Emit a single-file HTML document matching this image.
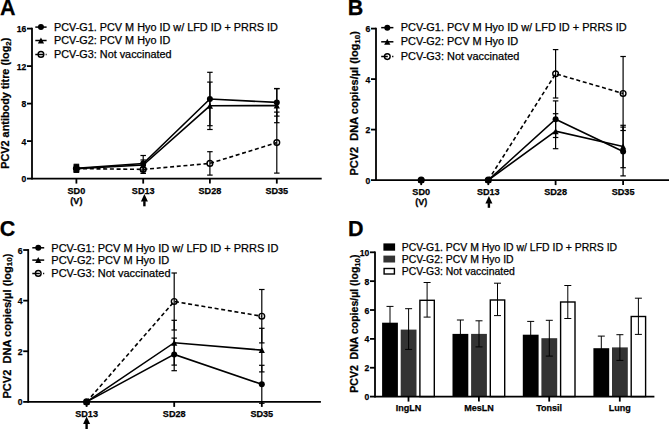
<!DOCTYPE html>
<html><head><meta charset="utf-8"><style>
html,body{margin:0;padding:0;background:#fff;}
svg{display:block;font-family:"Liberation Sans", sans-serif;}
text{stroke:#000;stroke-width:0.25px;paint-order:stroke;}
</style></head><body>
<svg width="669" height="429" viewBox="0 0 669 429">
<rect width="669" height="429" fill="#fff"/>
<text x="-0.10" y="14.90" font-size="21.5" font-weight="bold" text-anchor="start" >A</text>
<line x1="32.00" y1="27.70" x2="32.00" y2="179.50" stroke="#000" stroke-width="1.8" />
<line x1="27.00" y1="28.60" x2="32.00" y2="28.60" stroke="#000" stroke-width="1.8" />
<text x="26.40" y="32.10" font-size="8.6" font-weight="bold" text-anchor="end" >16</text>
<line x1="27.00" y1="66.10" x2="32.00" y2="66.10" stroke="#000" stroke-width="1.8" />
<text x="26.40" y="69.60" font-size="8.6" font-weight="bold" text-anchor="end" >12</text>
<line x1="27.00" y1="103.60" x2="32.00" y2="103.60" stroke="#000" stroke-width="1.8" />
<text x="26.40" y="107.10" font-size="8.6" font-weight="bold" text-anchor="end" >8</text>
<line x1="27.00" y1="141.10" x2="32.00" y2="141.10" stroke="#000" stroke-width="1.8" />
<text x="26.40" y="144.60" font-size="8.6" font-weight="bold" text-anchor="end" >4</text>
<line x1="27.00" y1="178.60" x2="32.00" y2="178.60" stroke="#000" stroke-width="1.8" />
<text x="26.40" y="182.10" font-size="8.6" font-weight="bold" text-anchor="end" >0</text>
<line x1="32.00" y1="178.60" x2="321.70" y2="178.60" stroke="#000" stroke-width="1.8" />
<line x1="76.40" y1="178.60" x2="76.40" y2="183.60" stroke="#000" stroke-width="1.8" />
<line x1="143.20" y1="178.60" x2="143.20" y2="183.60" stroke="#000" stroke-width="1.8" />
<line x1="209.90" y1="178.60" x2="209.90" y2="183.60" stroke="#000" stroke-width="1.8" />
<line x1="276.80" y1="178.60" x2="276.80" y2="183.60" stroke="#000" stroke-width="1.8" />
<text x="76.40" y="193.80" font-size="9.1" font-weight="bold" text-anchor="middle" >SD0</text>
<text x="143.20" y="193.80" font-size="9.1" font-weight="bold" text-anchor="middle" >SD13</text>
<text x="209.90" y="193.80" font-size="9.1" font-weight="bold" text-anchor="middle" >SD28</text>
<text x="276.80" y="193.80" font-size="9.1" font-weight="bold" text-anchor="middle" >SD35</text>
<text x="76.40" y="204.00" font-size="9.1" font-weight="bold" text-anchor="middle" >(V)</text>
<path d="M144.40,194.00 L147.90,201.60 L140.90,201.60 Z" fill="#000"/>
<line x1="144.40" y1="201.10" x2="144.40" y2="206.30" stroke="#000" stroke-width="2.4" />
<text transform="translate(9.30,103.20) rotate(-90)" x="0" y="0" font-size="10.86" font-weight="bold" text-anchor="middle" xml:space="preserve">PCV2 antibody titre (log<tspan font-size="7.93" dy="1.63">2</tspan><tspan dy="-1.63">)</tspan></text>
<line x1="76.40" y1="164.30" x2="76.40" y2="172.30" stroke="#000" stroke-width="1.2" />
<line x1="73.65" y1="164.30" x2="79.15" y2="164.30" stroke="#000" stroke-width="1.2" />
<line x1="73.65" y1="172.30" x2="79.15" y2="172.30" stroke="#000" stroke-width="1.2" />
<line x1="143.20" y1="155.50" x2="143.20" y2="171.50" stroke="#000" stroke-width="1.2" />
<line x1="140.45" y1="155.50" x2="145.95" y2="155.50" stroke="#000" stroke-width="1.2" />
<line x1="140.45" y1="171.50" x2="145.95" y2="171.50" stroke="#000" stroke-width="1.2" />
<line x1="209.90" y1="72.30" x2="209.90" y2="125.70" stroke="#000" stroke-width="1.2" />
<line x1="207.15" y1="72.30" x2="212.65" y2="72.30" stroke="#000" stroke-width="1.2" />
<line x1="207.15" y1="125.70" x2="212.65" y2="125.70" stroke="#000" stroke-width="1.2" />
<line x1="276.80" y1="88.70" x2="276.80" y2="116.10" stroke="#000" stroke-width="1.2" />
<line x1="274.05" y1="88.70" x2="279.55" y2="88.70" stroke="#000" stroke-width="1.2" />
<line x1="274.05" y1="116.10" x2="279.55" y2="116.10" stroke="#000" stroke-width="1.2" />
<line x1="76.40" y1="165.10" x2="76.40" y2="172.10" stroke="#000" stroke-width="1.2" />
<line x1="73.65" y1="165.10" x2="79.15" y2="165.10" stroke="#000" stroke-width="1.2" />
<line x1="73.65" y1="172.10" x2="79.15" y2="172.10" stroke="#000" stroke-width="1.2" />
<line x1="143.20" y1="160.00" x2="143.20" y2="170.00" stroke="#000" stroke-width="1.2" />
<line x1="140.45" y1="160.00" x2="145.95" y2="160.00" stroke="#000" stroke-width="1.2" />
<line x1="140.45" y1="170.00" x2="145.95" y2="170.00" stroke="#000" stroke-width="1.2" />
<line x1="209.90" y1="82.10" x2="209.90" y2="129.50" stroke="#000" stroke-width="1.2" />
<line x1="207.15" y1="82.10" x2="212.65" y2="82.10" stroke="#000" stroke-width="1.2" />
<line x1="207.15" y1="129.50" x2="212.65" y2="129.50" stroke="#000" stroke-width="1.2" />
<line x1="276.80" y1="88.50" x2="276.80" y2="122.70" stroke="#000" stroke-width="1.2" />
<line x1="274.05" y1="88.50" x2="279.55" y2="88.50" stroke="#000" stroke-width="1.2" />
<line x1="274.05" y1="122.70" x2="279.55" y2="122.70" stroke="#000" stroke-width="1.2" />
<line x1="76.40" y1="165.60" x2="76.40" y2="171.60" stroke="#000" stroke-width="1.2" />
<line x1="73.65" y1="165.60" x2="79.15" y2="165.60" stroke="#000" stroke-width="1.2" />
<line x1="73.65" y1="171.60" x2="79.15" y2="171.60" stroke="#000" stroke-width="1.2" />
<line x1="143.20" y1="165.40" x2="143.20" y2="173.40" stroke="#000" stroke-width="1.2" />
<line x1="140.45" y1="165.40" x2="145.95" y2="165.40" stroke="#000" stroke-width="1.2" />
<line x1="140.45" y1="173.40" x2="145.95" y2="173.40" stroke="#000" stroke-width="1.2" />
<line x1="209.90" y1="151.70" x2="209.90" y2="175.10" stroke="#000" stroke-width="1.2" />
<line x1="207.15" y1="151.70" x2="212.65" y2="151.70" stroke="#000" stroke-width="1.2" />
<line x1="207.15" y1="175.10" x2="212.65" y2="175.10" stroke="#000" stroke-width="1.2" />
<line x1="276.80" y1="112.10" x2="276.80" y2="173.10" stroke="#000" stroke-width="1.2" />
<line x1="274.05" y1="112.10" x2="279.55" y2="112.10" stroke="#000" stroke-width="1.2" />
<line x1="274.05" y1="173.10" x2="279.55" y2="173.10" stroke="#000" stroke-width="1.2" />
<polyline points="76.40,168.60 143.20,169.40 209.90,163.40 276.80,142.60" fill="none" stroke="#000" stroke-width="1.6" stroke-dasharray="4,2.7"/>
<polyline points="76.40,168.30 143.20,163.50 209.90,99.00 276.80,102.40" fill="none" stroke="#000" stroke-width="1.6" />
<polyline points="76.40,168.60 143.20,165.00 209.90,105.80 276.80,105.60" fill="none" stroke="#000" stroke-width="1.6" />
<circle cx="76.40" cy="168.60" r="2.85" fill="none" stroke="#000" stroke-width="1.4"/>
<circle cx="143.20" cy="169.40" r="2.85" fill="none" stroke="#000" stroke-width="1.4"/>
<circle cx="209.90" cy="163.40" r="2.85" fill="none" stroke="#000" stroke-width="1.4"/>
<circle cx="276.80" cy="142.60" r="2.85" fill="none" stroke="#000" stroke-width="1.4"/>
<path d="M73.30,171.60 L79.50,171.60 L76.40,165.60 Z" fill="#000"/>
<path d="M140.10,168.00 L146.30,168.00 L143.20,162.00 Z" fill="#000"/>
<path d="M206.80,108.80 L213.00,108.80 L209.90,102.80 Z" fill="#000"/>
<path d="M273.70,108.60 L279.90,108.60 L276.80,102.60 Z" fill="#000"/>
<circle cx="76.40" cy="168.30" r="3.0" fill="#000"/>
<circle cx="143.20" cy="163.50" r="3.0" fill="#000"/>
<circle cx="209.90" cy="99.00" r="3.0" fill="#000"/>
<circle cx="276.80" cy="102.40" r="3.0" fill="#000"/>
<line x1="35.30" y1="27.10" x2="46.60" y2="27.10" stroke="#000" stroke-width="1.5" />
<circle cx="40.95" cy="27.10" r="3.0" fill="#000"/>
<text x="54.00" y="30.70" font-size="10.85" font-weight="normal" text-anchor="start" >PCV-G1. PCV M Hyo ID w/ LFD ID + PRRS ID</text>
<line x1="35.30" y1="40.50" x2="46.60" y2="40.50" stroke="#000" stroke-width="1.5" />
<path d="M37.85,43.50 L44.05,43.50 L40.95,37.50 Z" fill="#000"/>
<text x="54.00" y="43.90" font-size="10.85" font-weight="normal" text-anchor="start" >PCV-G2: PCV M Hyo ID</text>
<line x1="35.30" y1="54.40" x2="46.60" y2="54.40" stroke="#000" stroke-width="1.5" stroke-dasharray="8,2.4,1.2,9"/>
<circle cx="40.95" cy="54.40" r="2.85" fill="none" stroke="#000" stroke-width="1.4"/>
<text x="54.00" y="57.60" font-size="10.85" font-weight="normal" text-anchor="start" >PCV-G3: Not vaccinated</text>
<text x="347.80" y="15.00" font-size="21.5" font-weight="bold" text-anchor="start" >B</text>
<line x1="376.00" y1="27.70" x2="376.00" y2="181.00" stroke="#000" stroke-width="1.8" />
<line x1="371.00" y1="28.60" x2="376.00" y2="28.60" stroke="#000" stroke-width="1.8" />
<text x="370.40" y="32.10" font-size="8.6" font-weight="bold" text-anchor="end" >6</text>
<line x1="371.00" y1="79.10" x2="376.00" y2="79.10" stroke="#000" stroke-width="1.8" />
<text x="370.40" y="82.60" font-size="8.6" font-weight="bold" text-anchor="end" >4</text>
<line x1="371.00" y1="129.60" x2="376.00" y2="129.60" stroke="#000" stroke-width="1.8" />
<text x="370.40" y="133.10" font-size="8.6" font-weight="bold" text-anchor="end" >2</text>
<line x1="371.00" y1="180.10" x2="376.00" y2="180.10" stroke="#000" stroke-width="1.8" />
<text x="370.40" y="183.60" font-size="8.6" font-weight="bold" text-anchor="end" >0</text>
<line x1="376.00" y1="180.10" x2="669.00" y2="180.10" stroke="#000" stroke-width="1.8" />
<line x1="421.20" y1="180.10" x2="421.20" y2="185.10" stroke="#000" stroke-width="1.8" />
<line x1="488.30" y1="180.10" x2="488.30" y2="185.10" stroke="#000" stroke-width="1.8" />
<line x1="555.60" y1="180.10" x2="555.60" y2="185.10" stroke="#000" stroke-width="1.8" />
<line x1="623.10" y1="180.10" x2="623.10" y2="185.10" stroke="#000" stroke-width="1.8" />
<text x="421.20" y="194.60" font-size="9.1" font-weight="bold" text-anchor="middle" >SD0</text>
<text x="488.30" y="194.60" font-size="9.1" font-weight="bold" text-anchor="middle" >SD13</text>
<text x="555.60" y="194.60" font-size="9.1" font-weight="bold" text-anchor="middle" >SD28</text>
<text x="623.10" y="194.60" font-size="9.1" font-weight="bold" text-anchor="middle" >SD35</text>
<text x="421.20" y="205.20" font-size="9.1" font-weight="bold" text-anchor="middle" >(V)</text>
<path d="M488.90,196.00 L492.40,203.60 L485.40,203.60 Z" fill="#000"/>
<line x1="488.90" y1="203.10" x2="488.90" y2="207.80" stroke="#000" stroke-width="2.4" />
<text transform="translate(358.00,103.30) rotate(-90)" x="0" y="0" font-size="11.0" font-weight="bold" text-anchor="middle" xml:space="preserve">PCV2  DNA copies/µl (log<tspan font-size="8.03" dy="1.65">10</tspan><tspan dy="-1.65">)</tspan></text>
<line x1="555.60" y1="100.90" x2="555.60" y2="137.50" stroke="#000" stroke-width="1.2" />
<line x1="552.85" y1="100.90" x2="558.35" y2="100.90" stroke="#000" stroke-width="1.2" />
<line x1="552.85" y1="137.50" x2="558.35" y2="137.50" stroke="#000" stroke-width="1.2" />
<line x1="623.10" y1="127.10" x2="623.10" y2="175.90" stroke="#000" stroke-width="1.2" />
<line x1="620.35" y1="127.10" x2="625.85" y2="127.10" stroke="#000" stroke-width="1.2" />
<line x1="620.35" y1="175.90" x2="625.85" y2="175.90" stroke="#000" stroke-width="1.2" />
<line x1="555.60" y1="113.70" x2="555.60" y2="148.70" stroke="#000" stroke-width="1.2" />
<line x1="552.85" y1="113.70" x2="558.35" y2="113.70" stroke="#000" stroke-width="1.2" />
<line x1="552.85" y1="148.70" x2="558.35" y2="148.70" stroke="#000" stroke-width="1.2" />
<line x1="623.10" y1="125.30" x2="623.10" y2="167.70" stroke="#000" stroke-width="1.2" />
<line x1="620.35" y1="125.30" x2="625.85" y2="125.30" stroke="#000" stroke-width="1.2" />
<line x1="620.35" y1="167.70" x2="625.85" y2="167.70" stroke="#000" stroke-width="1.2" />
<line x1="555.60" y1="49.60" x2="555.60" y2="98.00" stroke="#000" stroke-width="1.2" />
<line x1="552.85" y1="49.60" x2="558.35" y2="49.60" stroke="#000" stroke-width="1.2" />
<line x1="552.85" y1="98.00" x2="558.35" y2="98.00" stroke="#000" stroke-width="1.2" />
<line x1="623.10" y1="56.50" x2="623.10" y2="130.50" stroke="#000" stroke-width="1.2" />
<line x1="620.35" y1="56.50" x2="625.85" y2="56.50" stroke="#000" stroke-width="1.2" />
<line x1="620.35" y1="130.50" x2="625.85" y2="130.50" stroke="#000" stroke-width="1.2" />
<polyline points="488.30,180.10 555.60,73.80 623.10,93.50" fill="none" stroke="#000" stroke-width="1.6" stroke-dasharray="4,2.7"/>
<polyline points="488.30,180.10 555.60,119.20 623.10,151.50" fill="none" stroke="#000" stroke-width="1.6" />
<polyline points="488.30,180.10 555.60,131.20 623.10,146.50" fill="none" stroke="#000" stroke-width="1.6" />
<circle cx="421.20" cy="180.10" r="2.85" fill="none" stroke="#000" stroke-width="1.4"/>
<circle cx="488.30" cy="180.10" r="2.85" fill="none" stroke="#000" stroke-width="1.4"/>
<circle cx="555.60" cy="73.80" r="2.85" fill="none" stroke="#000" stroke-width="1.4"/>
<circle cx="623.10" cy="93.50" r="2.85" fill="none" stroke="#000" stroke-width="1.4"/>
<path d="M418.10,183.10 L424.30,183.10 L421.20,177.10 Z" fill="#000"/>
<path d="M485.20,183.10 L491.40,183.10 L488.30,177.10 Z" fill="#000"/>
<path d="M552.50,134.20 L558.70,134.20 L555.60,128.20 Z" fill="#000"/>
<path d="M620.00,149.50 L626.20,149.50 L623.10,143.50 Z" fill="#000"/>
<circle cx="421.20" cy="180.10" r="3.0" fill="#000"/>
<circle cx="488.30" cy="180.10" r="3.0" fill="#000"/>
<circle cx="555.60" cy="119.20" r="3.0" fill="#000"/>
<circle cx="623.10" cy="151.50" r="3.0" fill="#000"/>
<line x1="381.20" y1="27.65" x2="393.40" y2="27.65" stroke="#000" stroke-width="1.5" />
<circle cx="387.30" cy="27.65" r="3.0" fill="#000"/>
<text x="400.80" y="31.40" font-size="10.95" font-weight="normal" text-anchor="start" >PCV-G1. PCV M Hyo ID w/ LFD ID + PRRS ID</text>
<line x1="381.20" y1="41.80" x2="393.40" y2="41.80" stroke="#000" stroke-width="1.5" />
<path d="M384.20,44.80 L390.40,44.80 L387.30,38.80 Z" fill="#000"/>
<text x="400.80" y="45.40" font-size="10.95" font-weight="normal" text-anchor="start" >PCV-G2: PCV M Hyo ID</text>
<line x1="381.20" y1="56.60" x2="393.40" y2="56.60" stroke="#000" stroke-width="1.5" stroke-dasharray="6.6,4.3,1.5,9"/>
<circle cx="387.30" cy="56.60" r="2.85" fill="none" stroke="#000" stroke-width="1.4"/>
<text x="400.80" y="60.00" font-size="10.95" font-weight="normal" text-anchor="start" >PCV-G3: Not vaccinated</text>
<text x="-0.30" y="235.60" font-size="21.5" font-weight="bold" text-anchor="start" >C</text>
<line x1="28.20" y1="249.10" x2="28.20" y2="402.80" stroke="#000" stroke-width="1.8" />
<line x1="23.20" y1="250.00" x2="28.20" y2="250.00" stroke="#000" stroke-width="1.8" />
<text x="22.60" y="253.50" font-size="8.6" font-weight="bold" text-anchor="end" >6</text>
<line x1="23.20" y1="300.63" x2="28.20" y2="300.63" stroke="#000" stroke-width="1.8" />
<text x="22.60" y="304.13" font-size="8.6" font-weight="bold" text-anchor="end" >4</text>
<line x1="23.20" y1="351.27" x2="28.20" y2="351.27" stroke="#000" stroke-width="1.8" />
<text x="22.60" y="354.76" font-size="8.6" font-weight="bold" text-anchor="end" >2</text>
<line x1="23.20" y1="401.90" x2="28.20" y2="401.90" stroke="#000" stroke-width="1.8" />
<text x="22.60" y="405.40" font-size="8.6" font-weight="bold" text-anchor="end" >0</text>
<line x1="28.20" y1="401.90" x2="320.90" y2="401.90" stroke="#000" stroke-width="1.8" />
<line x1="86.60" y1="401.90" x2="86.60" y2="406.90" stroke="#000" stroke-width="1.8" />
<line x1="174.20" y1="401.90" x2="174.20" y2="406.90" stroke="#000" stroke-width="1.8" />
<line x1="261.80" y1="401.90" x2="261.80" y2="406.90" stroke="#000" stroke-width="1.8" />
<text x="86.60" y="416.50" font-size="9.1" font-weight="bold" text-anchor="middle" >SD13</text>
<text x="174.20" y="416.50" font-size="9.1" font-weight="bold" text-anchor="middle" >SD28</text>
<text x="261.80" y="416.50" font-size="9.1" font-weight="bold" text-anchor="middle" >SD35</text>
<path d="M86.60,416.50 L90.10,424.10 L83.10,424.10 Z" fill="#000"/>
<line x1="86.60" y1="423.60" x2="86.60" y2="432.00" stroke="#000" stroke-width="2.4" />
<text transform="translate(10.50,326.00) rotate(-90)" x="0" y="0" font-size="11.05" font-weight="bold" text-anchor="middle" xml:space="preserve">PCV2  DNA copies/µl (log<tspan font-size="8.07" dy="1.66">10</tspan><tspan dy="-1.66">)</tspan></text>
<line x1="174.20" y1="338.10" x2="174.20" y2="370.70" stroke="#000" stroke-width="1.2" />
<line x1="171.45" y1="338.10" x2="176.95" y2="338.10" stroke="#000" stroke-width="1.2" />
<line x1="171.45" y1="370.70" x2="176.95" y2="370.70" stroke="#000" stroke-width="1.2" />
<line x1="261.80" y1="365.30" x2="261.80" y2="403.30" stroke="#000" stroke-width="1.2" />
<line x1="259.05" y1="365.30" x2="264.55" y2="365.30" stroke="#000" stroke-width="1.2" />
<line x1="259.05" y1="403.30" x2="264.55" y2="403.30" stroke="#000" stroke-width="1.2" />
<line x1="174.20" y1="320.30" x2="174.20" y2="365.10" stroke="#000" stroke-width="1.2" />
<line x1="171.45" y1="320.30" x2="176.95" y2="320.30" stroke="#000" stroke-width="1.2" />
<line x1="171.45" y1="365.10" x2="176.95" y2="365.10" stroke="#000" stroke-width="1.2" />
<line x1="261.80" y1="328.30" x2="261.80" y2="371.90" stroke="#000" stroke-width="1.2" />
<line x1="259.05" y1="328.30" x2="264.55" y2="328.30" stroke="#000" stroke-width="1.2" />
<line x1="259.05" y1="371.90" x2="264.55" y2="371.90" stroke="#000" stroke-width="1.2" />
<line x1="174.20" y1="273.00" x2="174.20" y2="330.00" stroke="#000" stroke-width="1.2" />
<line x1="171.45" y1="273.00" x2="176.95" y2="273.00" stroke="#000" stroke-width="1.2" />
<line x1="171.45" y1="330.00" x2="176.95" y2="330.00" stroke="#000" stroke-width="1.2" />
<line x1="261.80" y1="289.50" x2="261.80" y2="342.90" stroke="#000" stroke-width="1.2" />
<line x1="259.05" y1="289.50" x2="264.55" y2="289.50" stroke="#000" stroke-width="1.2" />
<line x1="259.05" y1="342.90" x2="264.55" y2="342.90" stroke="#000" stroke-width="1.2" />
<polyline points="86.60,401.90 174.20,301.50 261.80,316.20" fill="none" stroke="#000" stroke-width="1.6" stroke-dasharray="4,2.7"/>
<polyline points="86.60,401.90 174.20,354.40 261.80,384.30" fill="none" stroke="#000" stroke-width="1.6" />
<polyline points="86.60,401.90 174.20,342.70 261.80,350.10" fill="none" stroke="#000" stroke-width="1.6" />
<circle cx="86.60" cy="401.90" r="2.85" fill="none" stroke="#000" stroke-width="1.4"/>
<circle cx="174.20" cy="301.50" r="2.85" fill="none" stroke="#000" stroke-width="1.4"/>
<circle cx="261.80" cy="316.20" r="2.85" fill="none" stroke="#000" stroke-width="1.4"/>
<path d="M83.50,404.90 L89.70,404.90 L86.60,398.90 Z" fill="#000"/>
<path d="M171.10,345.70 L177.30,345.70 L174.20,339.70 Z" fill="#000"/>
<path d="M258.70,353.10 L264.90,353.10 L261.80,347.10 Z" fill="#000"/>
<circle cx="86.60" cy="401.90" r="3.0" fill="#000"/>
<circle cx="174.20" cy="354.40" r="3.0" fill="#000"/>
<circle cx="261.80" cy="384.30" r="3.0" fill="#000"/>
<line x1="32.30" y1="247.80" x2="44.20" y2="247.80" stroke="#000" stroke-width="1.5" />
<circle cx="38.25" cy="247.80" r="3.0" fill="#000"/>
<text x="51.30" y="251.50" font-size="11.0" font-weight="normal" text-anchor="start" >PCV-G1: PCV M Hyo ID w/ LFD ID + PRRS ID</text>
<line x1="32.30" y1="260.10" x2="44.20" y2="260.10" stroke="#000" stroke-width="1.5" />
<path d="M35.15,263.10 L41.35,263.10 L38.25,257.10 Z" fill="#000"/>
<text x="51.30" y="263.80" font-size="11.0" font-weight="normal" text-anchor="start" >PCV-G2: PCV M Hyo ID</text>
<line x1="32.30" y1="273.40" x2="44.20" y2="273.40" stroke="#000" stroke-width="1.5" stroke-dasharray="7.6,3.2,1.4,9"/>
<circle cx="38.25" cy="273.40" r="2.85" fill="none" stroke="#000" stroke-width="1.4"/>
<text x="51.30" y="277.00" font-size="11.0" font-weight="normal" text-anchor="start" >PCV-G3: Not vaccinated</text>
<text x="348.00" y="235.50" font-size="21.5" font-weight="bold" text-anchor="start" >D</text>
<rect x="382.10" y="322.70" width="15.80" height="73.90" fill="#000"/>
<line x1="390.00" y1="306.40" x2="390.00" y2="339.00" stroke="#000" stroke-width="1.0" />
<line x1="386.50" y1="306.40" x2="393.50" y2="306.40" stroke="#000" stroke-width="1.0" />
<line x1="386.50" y1="339.00" x2="393.50" y2="339.00" stroke="#000" stroke-width="1.0" />
<rect x="400.70" y="329.60" width="15.80" height="67.00" fill="#333"/>
<line x1="408.60" y1="308.70" x2="408.60" y2="349.40" stroke="#000" stroke-width="1.0" />
<line x1="405.10" y1="308.70" x2="412.10" y2="308.70" stroke="#000" stroke-width="1.0" />
<line x1="405.10" y1="349.40" x2="412.10" y2="349.40" stroke="#000" stroke-width="1.0" />
<rect x="419.90" y="300.30" width="14.40" height="96.30" fill="#fff" stroke="#000" stroke-width="1.4"/>
<line x1="427.10" y1="282.50" x2="427.10" y2="317.10" stroke="#000" stroke-width="1.0" />
<line x1="423.60" y1="282.50" x2="430.60" y2="282.50" stroke="#000" stroke-width="1.0" />
<line x1="423.60" y1="317.10" x2="430.60" y2="317.10" stroke="#000" stroke-width="1.0" />
<rect x="452.50" y="333.90" width="15.80" height="62.70" fill="#000"/>
<line x1="460.40" y1="320.00" x2="460.40" y2="347.80" stroke="#000" stroke-width="1.0" />
<line x1="456.90" y1="320.00" x2="463.90" y2="320.00" stroke="#000" stroke-width="1.0" />
<line x1="456.90" y1="347.80" x2="463.90" y2="347.80" stroke="#000" stroke-width="1.0" />
<rect x="471.10" y="333.90" width="15.80" height="62.70" fill="#333"/>
<line x1="479.00" y1="320.80" x2="479.00" y2="346.90" stroke="#000" stroke-width="1.0" />
<line x1="475.50" y1="320.80" x2="482.50" y2="320.80" stroke="#000" stroke-width="1.0" />
<line x1="475.50" y1="346.90" x2="482.50" y2="346.90" stroke="#000" stroke-width="1.0" />
<rect x="490.30" y="300.00" width="14.40" height="96.60" fill="#fff" stroke="#000" stroke-width="1.4"/>
<line x1="497.50" y1="283.20" x2="497.50" y2="315.60" stroke="#000" stroke-width="1.0" />
<line x1="494.00" y1="283.20" x2="501.00" y2="283.20" stroke="#000" stroke-width="1.0" />
<line x1="494.00" y1="315.60" x2="501.00" y2="315.60" stroke="#000" stroke-width="1.0" />
<rect x="522.80" y="334.70" width="15.80" height="61.90" fill="#000"/>
<line x1="530.70" y1="321.40" x2="530.70" y2="348.00" stroke="#000" stroke-width="1.0" />
<line x1="527.20" y1="321.40" x2="534.20" y2="321.40" stroke="#000" stroke-width="1.0" />
<line x1="527.20" y1="348.00" x2="534.20" y2="348.00" stroke="#000" stroke-width="1.0" />
<rect x="541.40" y="338.20" width="15.80" height="58.40" fill="#333"/>
<line x1="549.30" y1="320.30" x2="549.30" y2="356.10" stroke="#000" stroke-width="1.0" />
<line x1="545.80" y1="320.30" x2="552.80" y2="320.30" stroke="#000" stroke-width="1.0" />
<line x1="545.80" y1="356.10" x2="552.80" y2="356.10" stroke="#000" stroke-width="1.0" />
<rect x="560.60" y="302.00" width="14.40" height="94.60" fill="#fff" stroke="#000" stroke-width="1.4"/>
<line x1="567.80" y1="285.50" x2="567.80" y2="318.50" stroke="#000" stroke-width="1.0" />
<line x1="564.30" y1="285.50" x2="571.30" y2="285.50" stroke="#000" stroke-width="1.0" />
<line x1="564.30" y1="318.50" x2="571.30" y2="318.50" stroke="#000" stroke-width="1.0" />
<rect x="593.40" y="348.20" width="15.80" height="48.40" fill="#000"/>
<line x1="601.30" y1="336.10" x2="601.30" y2="360.30" stroke="#000" stroke-width="1.0" />
<line x1="597.80" y1="336.10" x2="604.80" y2="336.10" stroke="#000" stroke-width="1.0" />
<line x1="597.80" y1="360.30" x2="604.80" y2="360.30" stroke="#000" stroke-width="1.0" />
<rect x="612.00" y="347.40" width="15.80" height="49.20" fill="#333"/>
<line x1="619.90" y1="334.70" x2="619.90" y2="360.40" stroke="#000" stroke-width="1.0" />
<line x1="616.40" y1="334.70" x2="623.40" y2="334.70" stroke="#000" stroke-width="1.0" />
<line x1="616.40" y1="360.40" x2="623.40" y2="360.40" stroke="#000" stroke-width="1.0" />
<rect x="631.20" y="316.50" width="14.40" height="80.10" fill="#fff" stroke="#000" stroke-width="1.4"/>
<line x1="638.40" y1="298.20" x2="638.40" y2="334.40" stroke="#000" stroke-width="1.0" />
<line x1="634.90" y1="298.20" x2="641.90" y2="298.20" stroke="#000" stroke-width="1.0" />
<line x1="634.90" y1="334.40" x2="641.90" y2="334.40" stroke="#000" stroke-width="1.0" />
<line x1="375.00" y1="251.40" x2="375.00" y2="397.50" stroke="#000" stroke-width="1.8" />
<line x1="370.00" y1="252.30" x2="375.00" y2="252.30" stroke="#000" stroke-width="1.8" />
<text x="369.40" y="255.80" font-size="8.6" font-weight="bold" text-anchor="end" >10</text>
<line x1="370.00" y1="281.16" x2="375.00" y2="281.16" stroke="#000" stroke-width="1.8" />
<text x="369.40" y="284.66" font-size="8.6" font-weight="bold" text-anchor="end" >8</text>
<line x1="370.00" y1="310.02" x2="375.00" y2="310.02" stroke="#000" stroke-width="1.8" />
<text x="369.40" y="313.52" font-size="8.6" font-weight="bold" text-anchor="end" >6</text>
<line x1="370.00" y1="338.88" x2="375.00" y2="338.88" stroke="#000" stroke-width="1.8" />
<text x="369.40" y="342.38" font-size="8.6" font-weight="bold" text-anchor="end" >4</text>
<line x1="370.00" y1="367.74" x2="375.00" y2="367.74" stroke="#000" stroke-width="1.8" />
<text x="369.40" y="371.24" font-size="8.6" font-weight="bold" text-anchor="end" >2</text>
<line x1="370.00" y1="396.60" x2="375.00" y2="396.60" stroke="#000" stroke-width="1.8" />
<text x="369.40" y="400.10" font-size="8.6" font-weight="bold" text-anchor="end" >0</text>
<line x1="375.00" y1="396.60" x2="654.40" y2="396.60" stroke="#000" stroke-width="1.8" />
<line x1="408.50" y1="396.60" x2="408.50" y2="401.60" stroke="#000" stroke-width="1.8" />
<line x1="478.90" y1="396.60" x2="478.90" y2="401.60" stroke="#000" stroke-width="1.8" />
<line x1="549.20" y1="396.60" x2="549.20" y2="401.60" stroke="#000" stroke-width="1.8" />
<line x1="619.80" y1="396.60" x2="619.80" y2="401.60" stroke="#000" stroke-width="1.8" />
<text x="408.50" y="410.80" font-size="9.0" font-weight="bold" text-anchor="middle" >IngLN</text>
<text x="478.90" y="410.80" font-size="9.0" font-weight="bold" text-anchor="middle" >MesLN</text>
<text x="549.20" y="410.80" font-size="9.0" font-weight="bold" text-anchor="middle" >Tonsil</text>
<text x="619.80" y="410.80" font-size="9.0" font-weight="bold" text-anchor="middle" >Lung</text>
<text transform="translate(358.40,323.65) rotate(-90)" x="0" y="0" font-size="10.52" font-weight="bold" text-anchor="middle" xml:space="preserve">PCV2  DNA copies/µl (log<tspan font-size="7.68" dy="1.58">10</tspan><tspan dy="-1.58">)</tspan></text>
<rect x="383.4" y="243.40" width="11.7" height="7.30" fill="#000"/>
<rect x="383.4" y="255.60" width="11.7" height="6.90" fill="#333"/>
<rect x="384.10" y="268.50" width="10.30" height="5.50" fill="#fff" stroke="#000" stroke-width="1.4"/>
<text x="401.70" y="250.60" font-size="10.45" font-weight="normal" text-anchor="start" >PCV-G1. PCV M Hyo ID w/ LFD ID + PRRS ID</text>
<text x="401.70" y="262.50" font-size="10.45" font-weight="normal" text-anchor="start" >PCV-G2: PCV M Hyo ID</text>
<text x="401.70" y="274.50" font-size="10.45" font-weight="normal" text-anchor="start" >PCV-G3: Not vaccinated</text>
</svg>
</body></html>
